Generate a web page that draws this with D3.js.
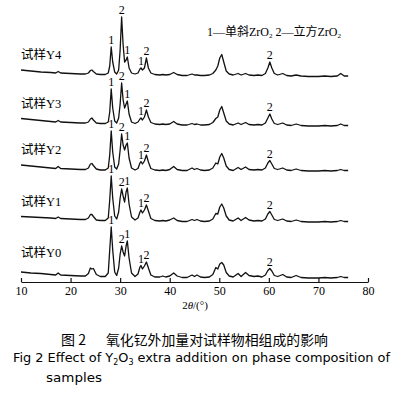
<!DOCTYPE html>
<html>
<head>
<meta charset="utf-8">
<script src="https://cdn.jsdelivr.net/npm/d3@7"></script>
<style>
  body { margin: 0; background: #fff; }
  text { fill: #000; }
  .serif { font-family: "Liberation Serif", "DejaVu Serif", "Noto Sans CJK SC", serif; }
  .cjk { font-family: "Noto Sans CJK SC", sans-serif; }
  .en { font-family: "DejaVu Sans", sans-serif; }
</style>
</head>
<body>
<svg width="401" height="394"></svg>
<script>
// 2theta sampling points (deg)
var twoTheta = [10, 12, 14, 16, 17, 17.5, 18, 20, 22, 23, 23.6, 24.0, 24.3, 24.6, 25.2, 26, 27, 27.6, 27.9, 28.2,
  28.5, 28.9, 29.3, 29.7, 30.0, 30.3, 30.6, 30.9, 31.2, 31.45, 31.8, 32.3, 33, 33.6, 34.0, 34.2, 34.5, 34.9, 35.3, 35.7,
  36.2, 37, 38, 38.6, 39.2, 40, 40.8, 41.5, 42.5, 43.5, 44.5, 45.0, 45.5, 46.2, 47, 48, 48.7, 49.3, 49.7, 50.1,
  50.5, 50.9, 51.4, 52, 52.8, 53.8, 54.4, 55.3, 56, 57, 57.8, 58.6, 59.3, 59.8, 60.2, 60.6, 61.1, 61.8, 62.8, 63.6,
  64.5, 65.5, 66.5, 68, 70, 71.3, 72.5, 73.8, 74.5, 75.2, 76];

// stacked intensities (a.u.), one array per sample
var intensityY0 = [10, 9, 8.5, 7.5, 7, 9, 7, 6.5, 6, 6, 8.5, 14, 13, 13.5, 7.5, 5.5, 5.5, 9, 32, 55,
  32, 10, 6.5, 14, 28, 36, 30, 26, 36, 41, 24, 9, 5.5, 8, 15, 16.5, 13, 16, 20, 14,
  7, 5, 5, 6, 5, 6, 9, 6, 4.5, 4.5, 7, 5.5, 7, 5, 4.5, 5, 7.5, 14.5, 13, 18,
  19.5, 17, 9.5, 6, 5, 8.5, 5.5, 9.5, 6.5, 5.5, 6, 5, 7, 11.5, 13.5, 11, 6.5, 5.5, 7.5, 5,
  4.5, 6.5, 4.5, 4, 4, 4.5, 4, 4.5, 5.5, 4.5, 4.5];
var intensityY1 = [65.5, 65, 64.5, 64, 63.5, 65, 63.5, 63, 62.5, 62.5, 64, 67.5, 67.5, 65.5, 62, 61.5, 61.5, 64, 82, 106,
  84, 66, 63, 70, 84, 93, 86, 80, 90, 94, 78, 65, 62, 64, 70, 72, 69, 72, 77, 71,
  63.5, 61.5, 61, 61.5, 61, 62, 64, 61.5, 60.5, 60.5, 62.5, 61.5, 62.5, 61, 60.5, 61, 63, 68.5, 68, 75,
  78, 74, 66, 62, 61, 64, 61.5, 64.5, 62, 61, 61.5, 61, 63, 68, 70.5, 67, 62.5, 61.5, 63, 61,
  60.5, 62, 60.5, 60, 60, 60.5, 60, 60.5, 61.5, 60.5, 60.5];
var intensityY2 = [117, 116, 115, 114, 113.5, 115.5, 113.5, 113, 112.5, 112.5, 114, 118, 118.5, 116.5, 113, 112, 112, 114, 127, 151,
  130, 115, 113, 118, 132, 148, 137, 132, 137, 139, 124, 114, 112, 113.5, 119, 120.5, 118, 121, 127, 120,
  113.5, 112, 111.5, 112, 111.5, 112.5, 115.5, 112.5, 111.5, 111.5, 114, 112.5, 113.5, 112, 111.5, 112, 114, 119, 118, 125,
  128.5, 124, 116, 112.5, 111.5, 114.5, 112.5, 115, 112.5, 112, 112.5, 112, 114, 119, 121.5, 118, 113.5, 112.5, 114, 112,
  111.5, 113, 111.5, 111, 111, 111.5, 111, 111.5, 112.5, 111.5, 111.5];
var intensityY3 = [163.5, 162.5, 161.5, 160.5, 160, 161.5, 160, 159.5, 159, 159, 160, 163, 164, 162, 159, 158.5, 158.5, 160, 170, 193,
  174, 161, 159, 164, 178, 199, 182, 174, 178, 181, 168, 160, 158.5, 160, 163, 164, 162, 165, 172, 165,
  159.5, 158, 157.5, 158, 157.5, 158, 160.5, 158, 157, 157, 158.5, 157.5, 158, 157, 157, 157.5, 159.5, 163.5, 165, 172,
  175.5, 169, 161, 158, 157, 159, 157.5, 159.5, 157.5, 157, 157.5, 157, 159, 164, 168, 163, 158.5, 157.5, 159, 157,
  156.5, 158, 156.5, 156, 156, 156.5, 156, 156.5, 158, 156.5, 156.5];
var intensityY4 = [212, 211, 210, 209.5, 209, 210.5, 209, 208.5, 208, 208, 209, 211.5, 212, 210.5, 208, 207.5, 207.5, 209, 216, 235,
  220, 210, 208, 212, 232, 265, 237, 220, 222, 225, 214, 209, 208, 209, 213, 214, 212, 214, 224, 214,
  209, 207.5, 207, 207.5, 207, 207.5, 209.5, 207.5, 206.5, 206.5, 208, 207, 207, 206.5, 206.5, 207, 208.5, 212, 216, 224,
  227.5, 220, 211, 208, 207, 208.5, 207, 208.5, 207, 206.5, 207, 206.5, 208.5, 214, 220, 214, 208.5, 207, 208.5, 206.5,
  206, 207, 206, 205.5, 205.5, 206, 205.5, 206, 208.5, 206, 206];

var sampleNames = ["Y0", "Y1", "Y2", "Y3", "Y4"];
var series = [intensityY0, intensityY1, intensityY2, intensityY3, intensityY4];

// peak marks: 1 = monoclinic ZrO2, 2 = cubic ZrO2
var peakTheta = [28.2, 30.3, 31.45, 34.2, 35.3, 60.2];
var peakPhase = ["1", "2", "1", "1", "2", "2"];

var xTicks = [10, 20, 30, 40, 50, 60, 70, 80];

var svg = d3.select("svg");

var x = d3.scaleLinear()
  .domain([10, 80])
  .range([21, 368]);

var y = d3.scaleLinear()
  .domain([0, 270])
  .range([282, 12]);

var line = d3.line()
  .x(function(d, i) { return x(twoTheta[i]); })
  .y(function(d) { return y(d); });

svg.selectAll("path.xrd")
  .data(series)
  .enter()
  .append("path")
  .attr("class", "xrd")
  .attr("d", line)
  .attr("fill", "none")
  .attr("stroke", "#111")
  .attr("stroke-width", 1.3)
  .attr("stroke-linejoin", "round");

// peak labels sit just above each peak top
series.forEach(function(vals) {
  peakTheta.forEach(function(t, k) {
    var top = d3.max(twoTheta.map(function(tt, i) { return Math.abs(tt - t) < 0.2 ? vals[i] : -1; }));
    svg.append("text")
      .attr("class", "serif")
      .attr("x", x(t))
      .attr("y", y(top) - 3)
      .attr("text-anchor", "middle")
      .style("font-size", "12px")
      .text(peakPhase[k]);
  });
});

// sample names at the left
series.forEach(function(vals, i) {
  svg.append("text")
    .attr("class", "serif")
    .attr("x", 21)
    .attr("y", y(vals[0]) - 11 - (i === 0 ? 4 : 0))
    .style("font-size", "12.5px")
    .text("试样" + sampleNames[i]);
});

// legend
var leg = svg.append("text")
  .attr("class", "serif")
  .attr("x", 207)
  .attr("y", 36)
  .style("font-size", "12px");
leg.append("tspan").text("1—单斜ZrO");
leg.append("tspan").attr("dy", 2).style("font-size", "7px").text("2");
leg.append("tspan").attr("dy", -2).text("  2—立方ZrO");
leg.append("tspan").attr("dy", 2).style("font-size", "7px").text("2");

// x axis with inward ticks
var xAxis = d3.axisBottom(x)
  .tickValues(xTicks)
  .tickSizeInner(-4)
  .tickSizeOuter(0)
  .tickPadding(4);

var gx = svg.append("g")
  .attr("transform", "translate(0," + 282 + ")")
  .attr("font-family", null)
  .call(xAxis);
gx.attr("font-family", "Liberation Serif, DejaVu Serif, serif").attr("font-size", 12);
gx.select(".domain").attr("stroke", "#111").attr("stroke-width", 1.2);
gx.selectAll(".tick line").attr("stroke", "#111").attr("stroke-width", 1.2);
gx.selectAll(".tick text")
  .attr("class", "serif")
  .style("font-size", "12px")
  .attr("fill", "#000");

var title = svg.append("text")
  .attr("class", "serif")
  .attr("x", 195)
  .attr("y", 309)
  .attr("text-anchor", "middle")
  .style("font-size", "11px");
title.append("tspan").text("2");
title.append("tspan").style("font-style", "italic").text("θ");
title.append("tspan").text("/(°)");

// caption
svg.append("text")
  .attr("class", "cjk")
  .attr("x", 61)
  .attr("y", 345)
  .style("font-size", "14px")
  .text("图 2");
svg.append("text")
  .attr("class", "cjk")
  .attr("x", 106)
  .attr("y", 345)
  .attr("textLength", 222)
  .attr("lengthAdjust", "spacingAndGlyphs")
  .style("font-size", "14px")
  .text("氧化钇外加量对试样物相组成的影响");

var cap = svg.append("text")
  .attr("class", "en")
  .attr("x", 13)
  .attr("y", 362)
  .attr("textLength", 377)
  .attr("lengthAdjust", "spacingAndGlyphs")
  .style("font-size", "13px");
cap.append("tspan").text("Fig 2 Effect of Y");
cap.append("tspan").attr("dy", 3).style("font-size", "8px").text("2");
cap.append("tspan").attr("dy", -3).text("O");
cap.append("tspan").attr("dy", 3).style("font-size", "8px").text("3");
cap.append("tspan").attr("dy", -3).text(" extra addition on phase composition of");

svg.append("text")
  .attr("class", "en")
  .attr("x", 46)
  .attr("y", 382)
  .attr("textLength", 56)
  .attr("lengthAdjust", "spacingAndGlyphs")
  .style("font-size", "13px")
  .text("samples");
</script>
</body>
</html>
